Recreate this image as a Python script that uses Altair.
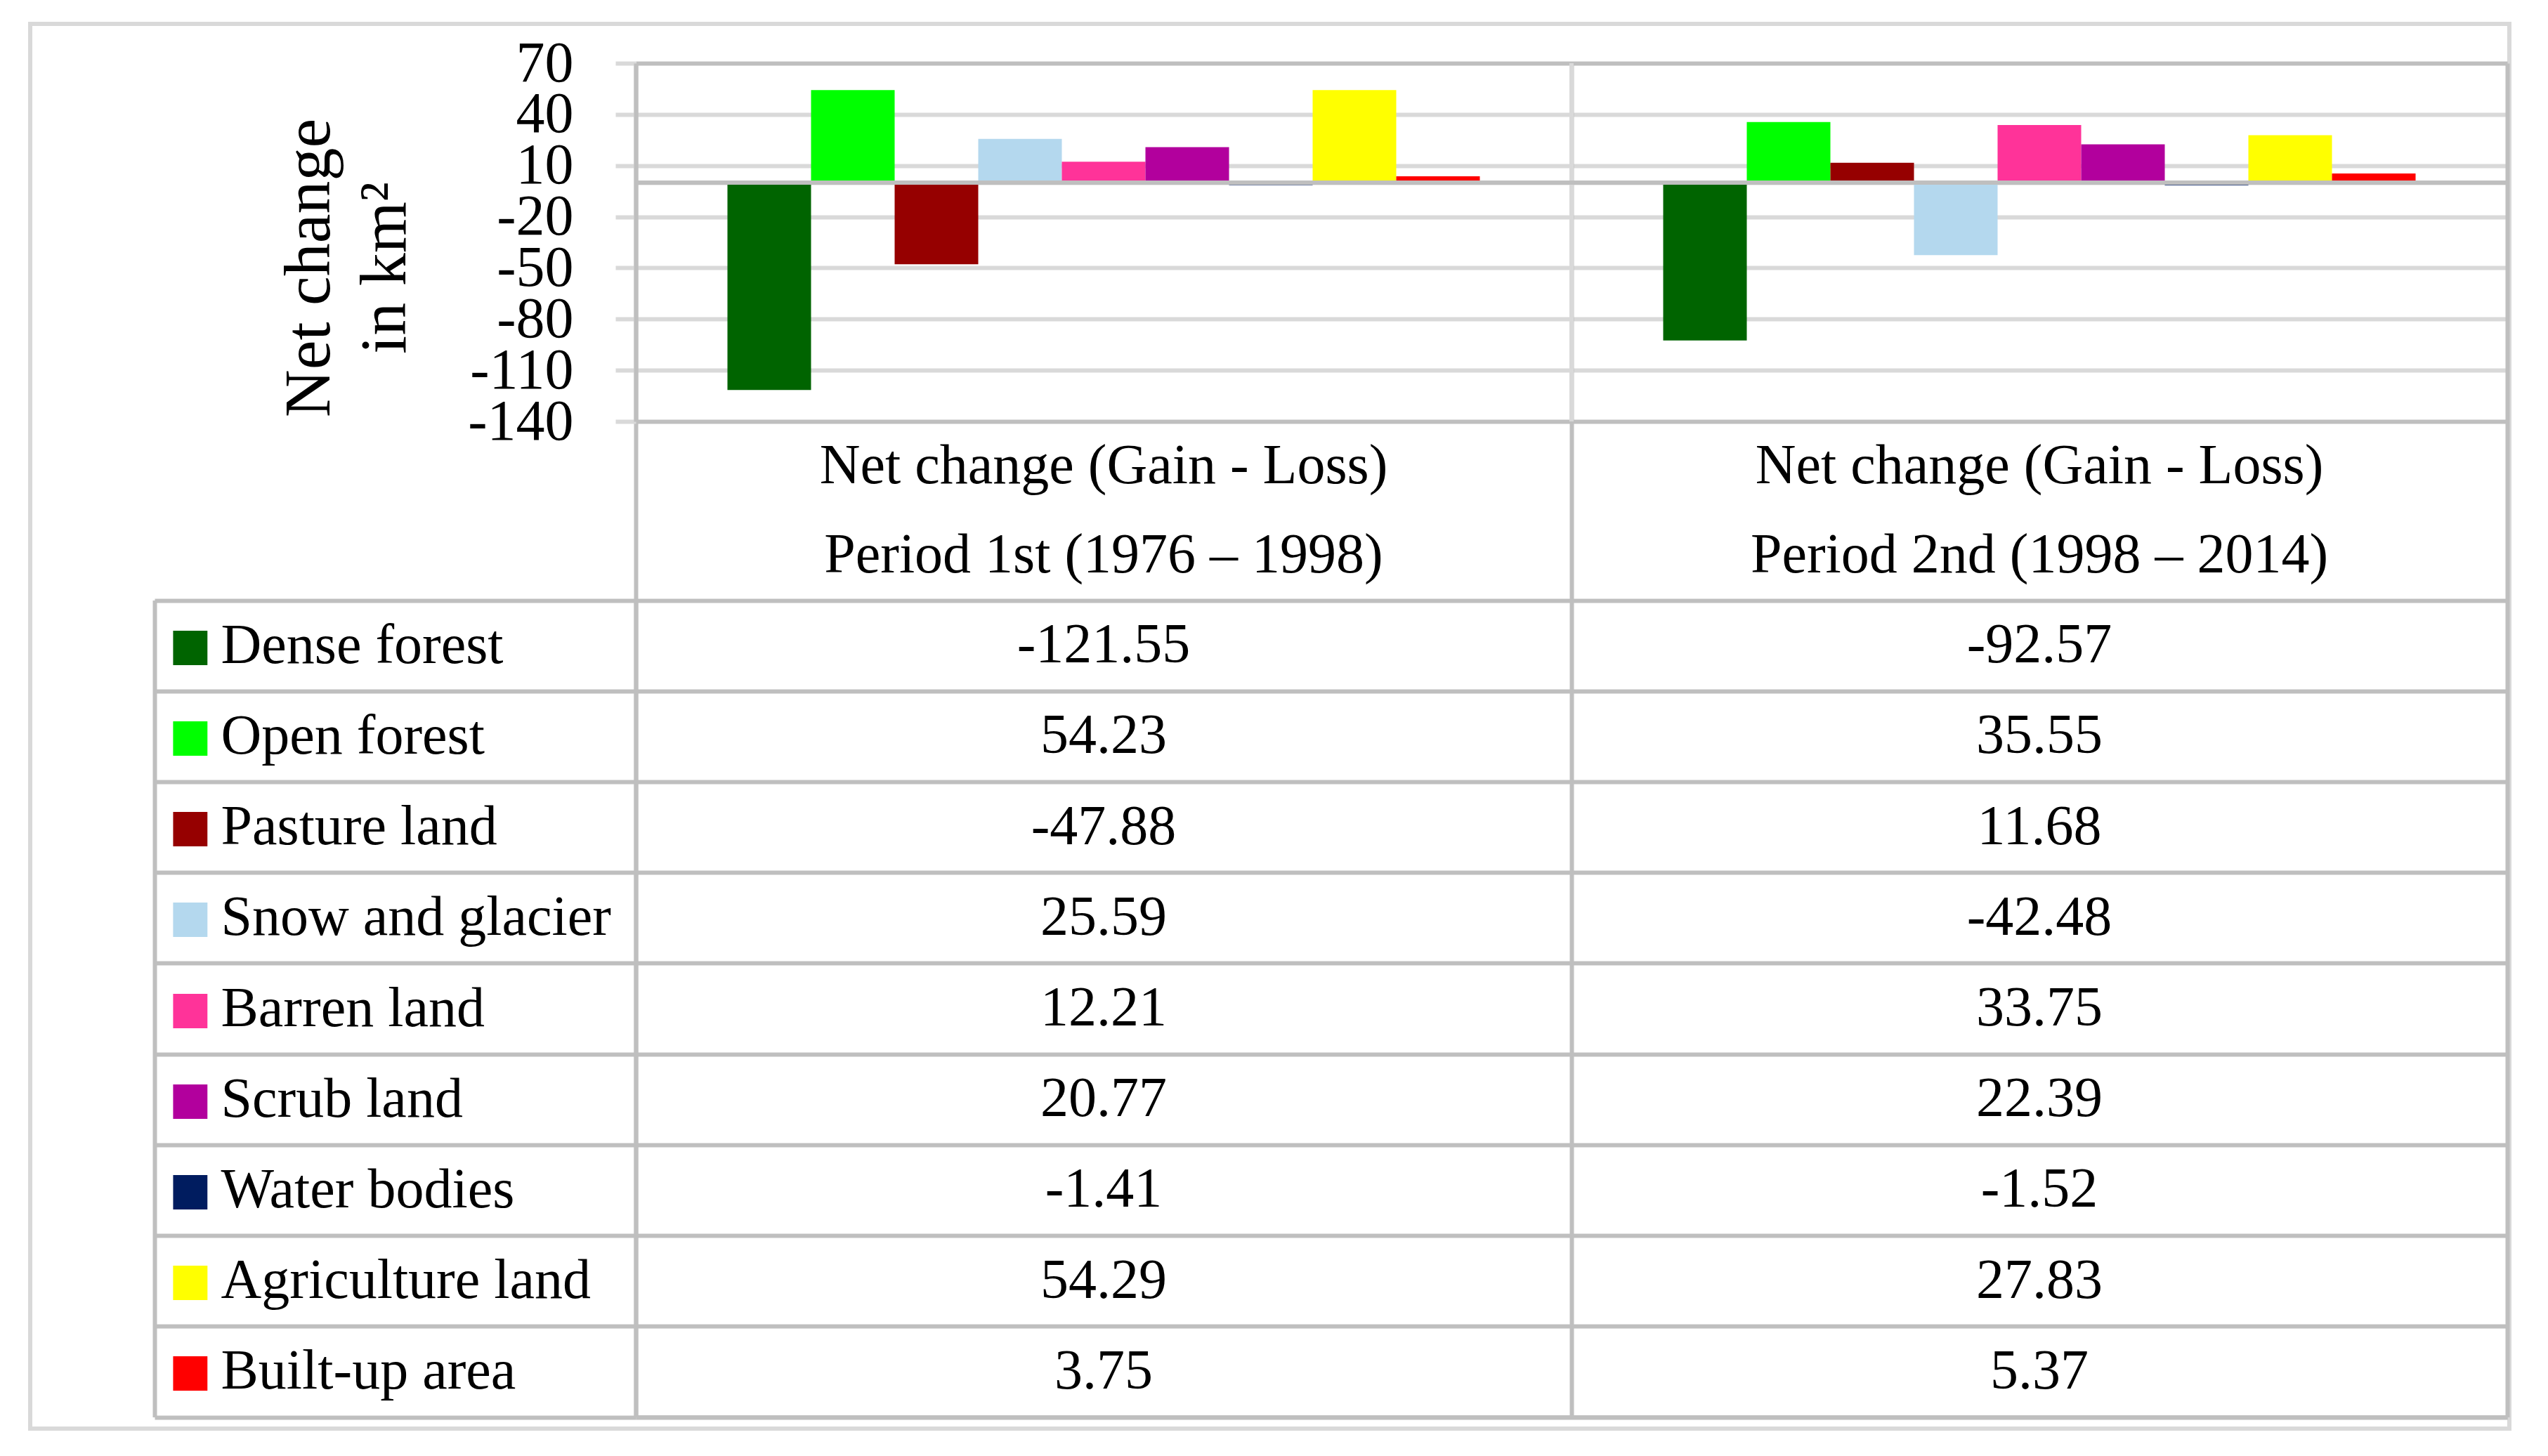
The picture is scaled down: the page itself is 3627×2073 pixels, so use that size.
import altair as alt
import pandas as pd

# ---------------- data ----------------
categories = ["Dense forest", "Open forest", "Pasture land", "Snow and glacier",
              "Barren land", "Scrub land", "Water bodies", "Agriculture land",
              "Built-up area"]
colors = ["#006400", "#00ff00", "#960000", "#b4d8ee", "#ff3399",
          "#b2009d", "#001c5f", "#ffff00", "#ff0000"]
periods = ["Period 1st (1976 \u2013 1998)", "Period 2nd (1998 \u2013 2014)"]
period1_values = [-121.55, 54.23, -47.88, 25.59, 12.21, 20.77, -1.41, 54.29, 3.75]
period2_values = [-92.57, 35.55, 11.68, -42.48, 33.75, 22.39, -1.52, 27.83, 5.37]
header_top = "Net change (Gain - Loss)"
y_ticks = [70, 40, 10, -20, -50, -80, -110, -140]
y_title = ["Net change", "in km\u00b2"]

rows = []
for p, vals in zip(periods, [period1_values, period2_values]):
    for c, v in zip(categories, vals):
        rows.append({"period": p, "category": c, "value": v, "label": f"{v:.2f}"})
df = pd.DataFrame(rows)
hdr = pd.DataFrame([{"period": p, "line": ln, "text": t}
                    for p in periods for ln, t in (("l1", header_top), ("l2", p))])
cats_df = pd.DataFrame({"category": categories})
period_df = pd.DataFrame({"period": periods})

# ---------------- layout (pixels inside the framed view) ----------------
W, H = 3529, 2000
X0, X1 = 862, 3526           # value plot left / right
Y_TOP, Y_BOT = 56, 566       # value axis 70 .. -140
TABLE_TOP, TABLE_BOT = 820.5, 1983.5
LEFT_COL = 177               # table left border
GROUP_PAD = 130.5            # empty space either side of each bar group
LINE = "#bfbfbf"
GRID = "#d9d9d9"
FONT = "Liberation Serif"

band_w = (X1 - X0) / len(periods)

xscale = alt.Scale(domain=periods, range=[X0, X1], paddingInner=0, paddingOuter=0)
xaxis = alt.Axis(orient="top", offset=-TABLE_BOT, labels=False, title=None,
                 grid=False, ticks=True, tickBand="extent",
                 tickSize=TABLE_BOT - Y_TOP, tickWidth=6, tickColor=LINE,
                 domain=True, domainColor=LINE, domainWidth=6)
x_enc = alt.X("period:N", scale=xscale, axis=xaxis)

yscaleA = alt.Scale(domain=[-140, 70], range=[Y_BOT, Y_TOP], nice=False)
yaxisA = alt.Axis(
    orient="left", offset=-X0, values=y_ticks + [0],
    labelExpr="datum.value === 0 ? '' : '' + datum.value",
    labelFont=FONT, labelFontSize=82, labelColor="black", labelPadding=60,
    labelLimit=1000, labelOverlap=False,
    tickSize=29, tickWidth=6, tickColor=GRID,
    tickOpacity={"condition": {"test": "datum.value === 0", "value": 0}, "value": 1},
    domain=True, domainColor=LINE, domainWidth=6,
    grid=True, gridWidth=6,
    gridColor={"condition": {"test": "datum.value === 70 || datum.value === -140",
                             "value": LINE}, "value": GRID},
    title=y_title, titleFont=FONT, titleFontSize=94, titleFontWeight="normal",
    titleColor="black", titleAngle=270, titleX=-465, titleY=347,
    titleAlign="center", titleBaseline="middle", titleLineHeight=108,
)

rowscale = alt.Scale(domain=categories, range=[TABLE_TOP, TABLE_BOT],
                     paddingInner=0, paddingOuter=0)

yaxisB = alt.Axis(
    orient="left", offset=-X0, title=None,
    domain=True, domainColor=LINE, domainWidth=6,
    ticks=True, tickBand="extent", tickSize=X0 - LEFT_COL, tickWidth=6, tickColor=LINE,
    grid=True, gridColor=LINE, gridWidth=6,
    labelAlign="left", labelPadding=-94, labelFont=FONT, labelFontSize=80,
    labelColor="black", labelLimit=2000, labelOverlap=False, labelBaseline="middle",
)

swatch_color = {
    "condition": [{"test": "datum.value === '%s'" % c, "value": col}
                  for c, col in zip(categories, colors)],
    "value": "black",
}
yaxisC = alt.Axis(
    orient="left", offset=-LEFT_COL, title=None,
    domain=True, domainColor=LINE, domainWidth=6,
    ticks=False, tickSize=0, grid=False,
    labelExpr="'\u25a0'", labelColor=swatch_color, labelFont="DejaVu Sans",
    labelFontSize=64, labelAlign="left", labelPadding=-20, labelLimit=0,
    labelOverlap=False, labelBaseline="middle",
)

# light divider between the two periods inside the value plot
divider = alt.Chart(period_df).transform_filter(
    alt.datum.period == periods[1]
).mark_rule(color=GRID, strokeWidth=6).encode(
    x=alt.X("period:N", scale=xscale, axis=xaxis, bandPosition=0),
    y=alt.Y(datum=y_ticks[0], type="quantitative", scale=yscaleA, axis=yaxisA),
    y2=alt.Y2(datum=y_ticks[-1]),
)

bars = alt.Chart(df).mark_bar().encode(
    x=x_enc,
    xOffset=alt.XOffset("category:N",
                        scale=alt.Scale(domain=categories, range=[GROUP_PAD, band_w - GROUP_PAD],
                                        paddingInner=0, paddingOuter=0)),
    y=alt.Y("value:Q", scale=yscaleA, axis=yaxisA),
    color=alt.Color("category:N", scale=alt.Scale(domain=categories, range=colors), legend=None),
)

# category axis line at zero, drawn over the bars
zero_line = alt.Chart(period_df).mark_bar(fill="transparent", stroke=LINE, strokeWidth=6).encode(
    x=x_enc,
    y=alt.Y(datum=0, type="quantitative", scale=yscaleA, axis=yaxisA),
    y2=alt.Y2(datum=0),
)

value_plot = alt.layer(divider, bars, zero_line)

table_vals = alt.Chart(df).mark_text(font=FONT, fontSize=80, color="black").encode(
    x=x_enc,
    y=alt.Y("category:N", scale=rowscale, axis=yaxisB),
    text=alt.Text("label:N"),
)

swatches = alt.Chart(cats_df).mark_text(text="", font=FONT).encode(
    y=alt.Y("category:N", scale=rowscale, axis=yaxisC),
)

headers = alt.Chart(hdr).mark_text(font=FONT, fontSize=80, color="black").encode(
    x=x_enc,
    y=alt.Y("line:N", scale=alt.Scale(domain=["l1", "l2"], range=[Y_BOT, TABLE_TOP],
                                      paddingInner=0, paddingOuter=0), axis=None),
    text="text:N",
)

chart = (
    alt.layer(value_plot, table_vals, swatches, headers)
    .resolve_scale(y="independent")
    .properties(width=W, height=H,
                autosize=alt.AutoSizeParams(type="none"),
                padding={"left": 35, "top": 26, "right": 5, "bottom": 5})
    .configure(font=FONT, background="white")
    .configure_view(stroke=GRID, strokeWidth=6)
)

chart.save("out.html", embed_options={"renderer": "svg", "actions": False})
